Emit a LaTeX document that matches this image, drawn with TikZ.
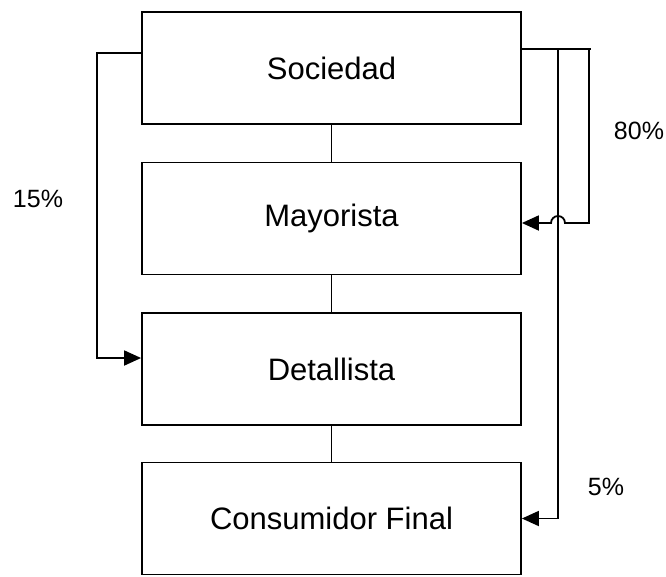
\documentclass[tikz,border=0pt]{standalone}
\usepackage{fontspec}
\setmainfont{Liberation Sans}
\usetikzlibrary{arrows.meta}
\begin{document}
\begin{tikzpicture}[x=1pt,y=-1pt,
    line width=1.8pt,
    stage/.style={draw, minimum width=379pt, minimum height=112pt,
                  inner sep=0pt, font=\fontsize{31}{36}\selectfont},
    pct/.style={font=\fontsize{25}{30}\selectfont, inner sep=0pt},
    arr/.style={-{Triangle[length=17pt,width=15pt]}}]
  \useasboundingbox (0,0) rectangle (666,576);

  % the four levels of the chain
  \node[stage] (soc) at (331.5,68)    {Sociedad};
  \node[stage] (may) at (331.5,218.5) {Mayorista};
  \node[stage] (det) at (331.5,369)   {Detallista};
  \node[stage] (cf)  at (331.5,518.5) {Consumidor Final};

  % vertical links between levels
  \draw (soc.south) -- (may.north);
  \draw (may.south) -- (det.north);
  \draw (det.south) -- (cf.north);

  % 15% branch on the left
  \coordinate (lTop) at (soc.west |- 0,53);
  \coordinate (lBend) at (97,53);
  \coordinate (lIn) at (det.west |- 0,358);
  \draw[arr] (lTop) -- (lBend) |- (lIn);

  % branches on the right
  \coordinate (rTop) at (soc.east |- 0,49);
  \coordinate (rEnd) at (591,49);
  \draw (rTop) -- (rEnd);

  \coordinate (r80) at (589,49);
  \coordinate (mayIn) at (may.east |- 0,223);
  \draw[arr] (r80) -- (589,223) -- (565,223)
        arc[start angle=0, end angle=-180, radius=7] -- (mayIn);

  \coordinate (r5) at (558,49);
  \coordinate (cfIn) at (cf.east |- 0,518.5);
  \draw[arr] (r5) |- (cfIn);

  % percentages
  \node[pct] (p15) at (38,199)  {15\%};
  \node[pct] (p80) at (639,131) {80\%};
  \node[pct] (p5)  at (606,487) {5\%};
\end{tikzpicture}
\end{document}
